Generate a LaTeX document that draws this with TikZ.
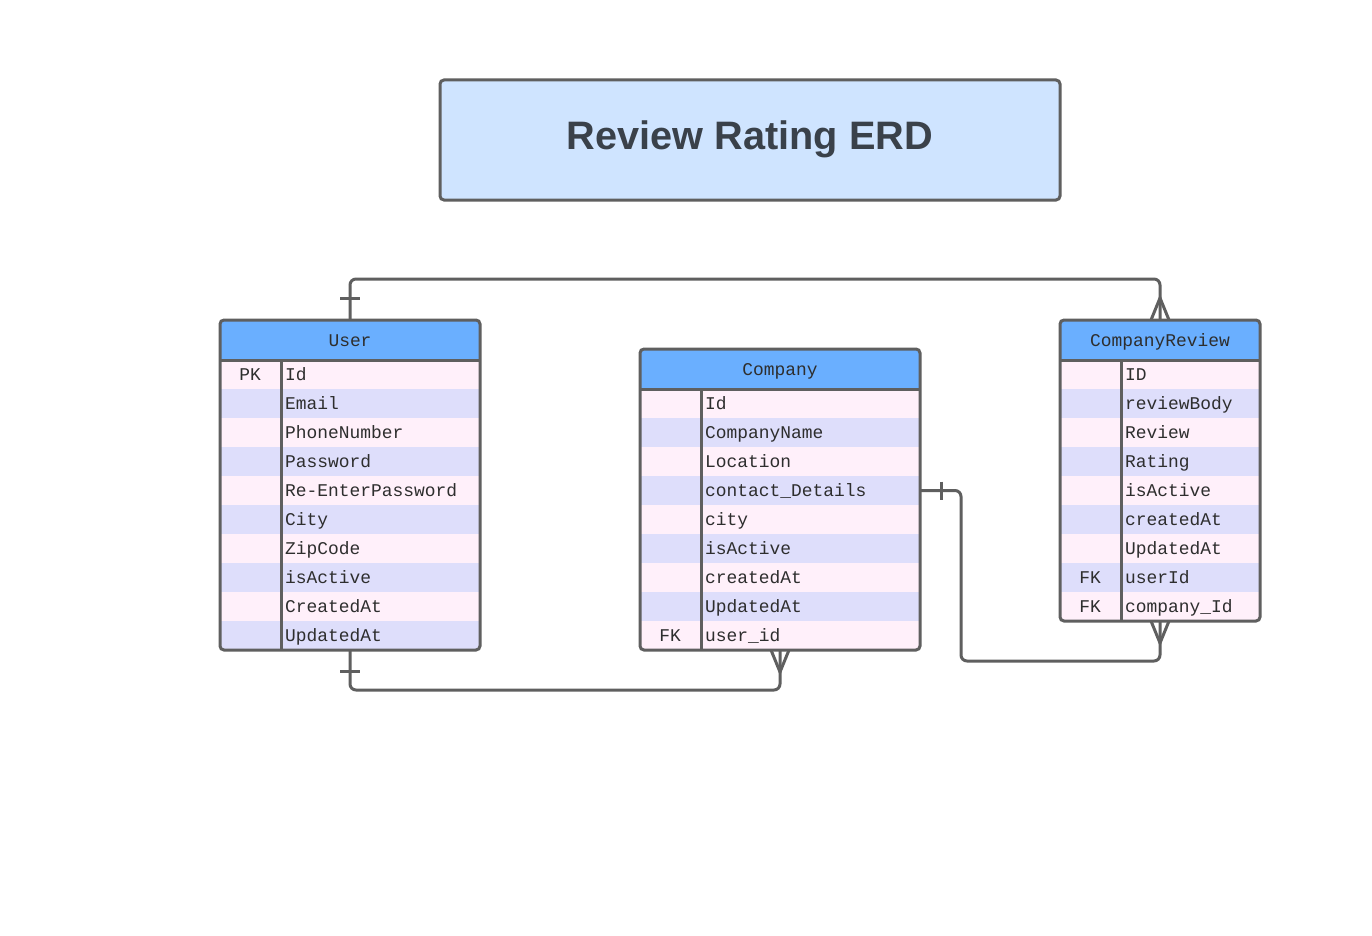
\documentclass[tikz,border=0pt]{standalone}
\usepackage{fontspec}
\setmainfont{Liberation Sans}
\setmonofont{Liberation Mono}
\usetikzlibrary{calc}
\definecolor{linec}{HTML}{5F5F5F}
\definecolor{titlefill}{HTML}{CFE4FF}
\definecolor{titletext}{HTML}{3A414A}
\definecolor{headfill}{HTML}{6AAFFF}
\definecolor{row0}{HTML}{FFF0FA}
\definecolor{row1}{HTML}{DEDEFB}
\definecolor{txt}{HTML}{2E2E2E}
\tikzset{
  x=1pt, y=-1pt,
  outline/.style={draw=linec, line width=3pt, rounded corners=4pt},
  rowbox/.style={inner sep=0pt, outer sep=0pt, anchor=north west},
  fieldtxt/.style={text=txt, inner sep=0pt, text height=11.5pt, text depth=3.5pt,
    font=\ttfamily\fontsize{17.9}{20}\selectfont},
  conn/.style={draw=linec, line width=3pt, rounded corners=6pt},
  endmark/.style={draw=linec, line width=3pt},
}
% #1 name, #2 left x, #3 top y, #4 width, #5 rows, #6 list key/field, #7 title
\newcommand\erdtable[7]{%
  \begin{scope}
    \clip[rounded corners=4pt] (#2,#3) rectangle ({#2+#4},{#3+40+29*#5});
    \fill[headfill] (#2,#3) rectangle ({#2+#4},{#3+40});
    \foreach \k/\f [count=\i from 0] in {#6} {
      \pgfmathtruncatemacro\c{mod(\i,2)}
      \node[rowbox, fill=row\c, minimum width=#4pt, minimum height=29pt] (#1-r\i) at (#2,{#3+40+29*\i}) {};
      \node[fieldtxt, anchor=west] (#1-f\i) at ({#2+65},{#3+40+29*\i+16.5}) {\f};
      \node[fieldtxt] (#1-k\i) at ({#2+30},{#3+40+29*\i+16.5}) {\k};
    }
  \end{scope}
  \node[fieldtxt] (#1-head) at ({#2+#4/2},{#3+22}) {#7};
  \draw[linec, line width=3pt] (#2,{#3+40}) -- ({#2+#4},{#3+40});
  \draw[linec, line width=3pt] ({#2+61},{#3+40}) -- ({#2+61},{#3+40+29*#5});
  \node[outline, rowbox, minimum width=#4pt, minimum height={40pt+29pt*#5}] (#1) at (#2,#3) {};
}
\begin{document}
\begin{tikzpicture}
\useasboundingbox[fill=white] (0,0) rectangle (1372,936);
% title
\node[outline, fill=titlefill, minimum width=620pt, minimum height=120pt, inner sep=0pt] (title) at (750,140) {};
\node[text=titletext, inner sep=0pt, font=\bfseries\fontsize{39.7}{44}\selectfont] (titletxt) at (750,139) {Review Rating ERD};
% tables
\erdtable{user}{220}{320}{260}{10}{PK/Id, /Email, /PhoneNumber, /Password, /Re-EnterPassword, /City, /ZipCode, /isActive, /CreatedAt, /UpdatedAt}{User}
\erdtable{company}{640}{349}{280}{9}{/Id, /CompanyName, /Location, /contact\_Details, /city, /isActive, /createdAt, /UpdatedAt, FK/user\_id}{Company}
\erdtable{cr}{1060}{320}{200}{9}{/ID, /reviewBody, /Review, /Rating, /isActive, /createdAt, /UpdatedAt, FK/userId, FK/company\_Id}{CompanyReview}
% connector User -> CompanyReview
\draw[conn] (user.north) |- ($(cr.north)+(0,-41)$) -- (cr.north);
\draw[endmark] ($(user.north)+(-10,-22)$) -- ++(20,0);
\draw[endmark] ($(cr.north)+(-9,0)$) -- ($(cr.north)+(0,-22)$) -- ($(cr.north)+(9,0)$);
% connector User -> Company
\draw[conn] (user.south) |- ($(company.south)+(0,40)$) -- (company.south);
\draw[endmark] ($(user.south)+(-10,21)$) -- ++(20,0);
\draw[endmark] ($(company.south)+(-9,0)$) -- ($(company.south)+(0,22)$) -- ($(company.south)+(9,0)$);
% connector Company -> CompanyReview
\coordinate (cpt) at (company-r3.east);
\draw[conn] (cpt) -- ++(41,0) |- ($(cr.south)+(0,40)$) -- (cr.south);
\draw[endmark] ($(cpt)+(21,-9)$) -- ++(0,18);
\draw[endmark] ($(cr.south)+(-9,0)$) -- ($(cr.south)+(0,22)$) -- ($(cr.south)+(9,0)$);
\end{tikzpicture}
\end{document}
